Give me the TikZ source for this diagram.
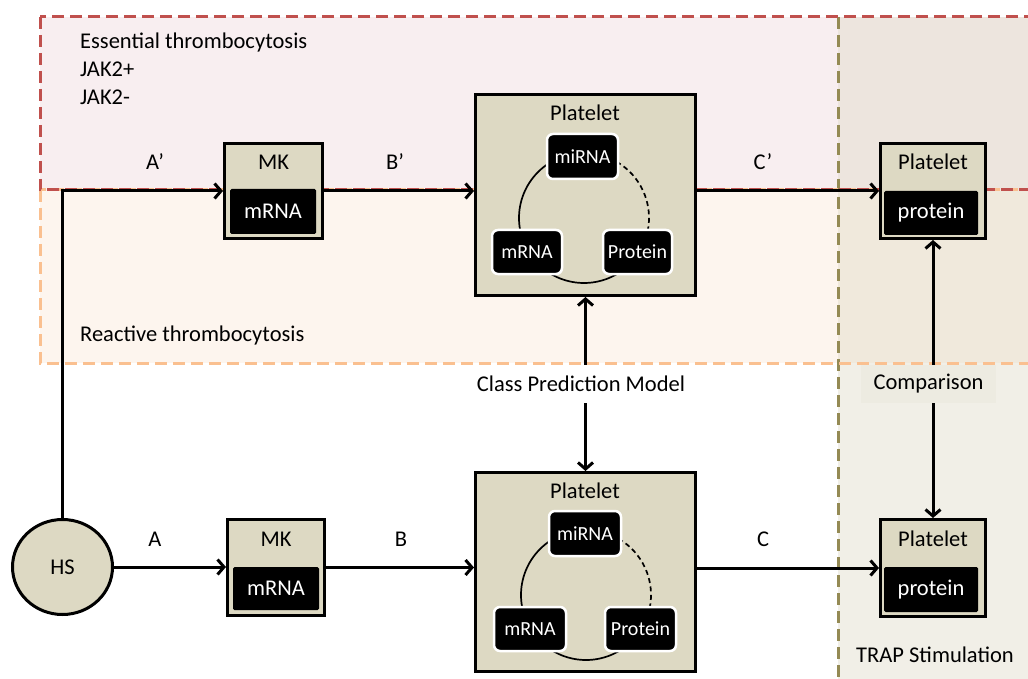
\documentclass[tikz,border=0pt]{standalone}
\usepackage{fontspec}
\setmainfont{Carlito}
\usetikzlibrary{arrows.meta,shapes.geometric}
\definecolor{tanfill}{HTML}{DDD9C3}
\definecolor{etline}{HTML}{C0504D}
\definecolor{etfill}{HTML}{F8EEF0}
\definecolor{rtline}{HTML}{FAC090}
\definecolor{rtfill}{HTML}{FDF5EE}
\definecolor{trapline}{HTML}{948A54}
\definecolor{cmpfill}{HTML}{EDEBE1}
\newcommand\txtL{\fontsize{22.5}{28}\selectfont}
\newcommand\txtS{\fontsize{20}{23}\selectfont}
\tikzset{
  conn/.style={line width=3pt, -{Straight Barb[length=6.5pt,width=15pt]}},
  outerbox/.style={draw=black, fill=tanfill, line width=3pt, inner sep=0pt},
  blackbox/.style={fill=black, text=white, inner sep=0pt, rounded corners=1.5pt, font=\txtL},
  corebox/.style={fill=black, draw=white, line width=2.5pt, text=white, inner sep=0pt,
                  rounded corners=6pt, font=\txtS},
  lbl/.style={font=\txtL, inner sep=1pt},
  region/.style={line width=3pt, dash pattern=on 12pt off 6pt},
  link/.style={line width=1.7pt},
  linkdash/.style={line width=1.7pt, dash pattern=on 5pt off 3.5pt},
}
\begin{document}
\begin{tikzpicture}[x=1pt,y=-1pt]
\fill[white] (0,0) rectangle (1028,679);
\useasboundingbox (0,0) rectangle (1028,679);

% background study groups
\begin{scope}
  \clip (0,0) rectangle (1028,679);
  \fill[etfill] (40,17) rectangle (1040,190);
  \fill[rtfill] (40,190) rectangle (1040,363);
  \fill[tanfill, opacity=0.4] (838,17) rectangle (1040,690);
  \draw[region, draw=trapline] (838,17) -- (838,690);
  \draw[region, draw=rtline] (40,190) rectangle (1040,363);
  \draw[region, draw=etline] (40,17) rectangle (1040,190);
\end{scope}

\node[lbl, anchor=north west, align=left] (etlabel) at (79,32)
  {Essential thrombocytosis\\JAK2+\\JAK2-};
\node[lbl, anchor=west] (rtlabel) at (79,336) {Reactive thrombocytosis};
\node[lbl] (traplabel) at (935,655) {TRAP Stimulation};

% hematopoietic source
\node[ellipse, draw=black, fill=tanfill, line width=3pt, minimum width=100pt,
      minimum height=95pt, font=\txtL] (hs) at (62.5,567) {HS};

% megakaryocytes
\node[outerbox, minimum width=98pt, minimum height=95pt] (mk1) at (273.5,191) {};
\node[lbl] (mk1t) at (273.5,162) {MK};
\node[blackbox, minimum width=86pt, minimum height=45pt] (mk1r) at (273,211.5) {mRNA};

\node[outerbox, minimum width=97pt, minimum height=96pt] (mk2) at (276,567.5) {};
\node[lbl] (mk2t) at (276,539) {MK};
\node[blackbox, minimum width=86pt, minimum height=43pt] (mk2r) at (276,588.5) {mRNA};

% platelets with miRNA / mRNA / protein interplay
\node[outerbox, minimum width=220pt, minimum height=201pt] (plt1) at (585.5,195) {};
\node[lbl] (plt1t) at (585,113) {Platelet};
\draw[link] plot[smooth, domain=120:195, samples=40] ({584+65*cos(\x)},{218-65*sin(\x)});
\draw[link] plot[smooth, domain=235:305, samples=40] ({584+65*cos(\x)},{218-65*sin(\x)});
\draw[linkdash] plot[smooth, domain=60:-15, samples=40] ({584+65*cos(\x)},{218-65*sin(\x)});
\node[corebox, minimum width=71pt, minimum height=45pt] (mi1) at (582.5,156.5) {miRNA};
\node[corebox, minimum width=70pt, minimum height=44pt] (mr1) at (527,252) {mRNA};
\node[corebox, minimum width=69pt, minimum height=44pt] (pr1) at (637.5,252) {Protein};

\node[outerbox, minimum width=220pt, minimum height=199pt] (plt2) at (585.5,572) {};
\node[lbl] (plt2t) at (585,491) {Platelet};
\draw[link] plot[smooth, domain=120:195, samples=40] ({586+65*cos(\x)},{595-65*sin(\x)});
\draw[link] plot[smooth, domain=235:305, samples=40] ({586+65*cos(\x)},{595-65*sin(\x)});
\draw[linkdash] plot[smooth, domain=60:-15, samples=40] ({586+65*cos(\x)},{595-65*sin(\x)});
\node[corebox, minimum width=72pt, minimum height=45pt] (mi2) at (585,533.5) {miRNA};
\node[corebox, minimum width=72pt, minimum height=44pt] (mr2) at (530,629) {mRNA};
\node[corebox, minimum width=71pt, minimum height=44pt] (pr2) at (640.5,629) {Protein};

% stimulated platelets
\node[outerbox, minimum width=105pt, minimum height=95pt] (rp1) at (933,191) {};
\node[lbl] (rp1t) at (933,162) {Platelet};
\node[blackbox, minimum width=94pt, minimum height=44pt] (rp1p) at (931,213) {protein};

\node[outerbox, minimum width=105pt, minimum height=97pt] (rp2) at (933,568) {};
\node[lbl] (rp2t) at (933,539) {Platelet};
\node[blackbox, minimum width=94pt, minimum height=45pt] (rp2p) at (931,589.5) {protein};

% analysis labels
\node[lbl, fill=white, minimum height=38pt, inner sep=3pt] (cpm) at (581,384) {Class Prediction Model};
\node[lbl, fill=cmpfill, minimum width=135pt, minimum height=38pt] (cmp) at (928.5,384) {Comparison};

% flow
\draw[conn] (hs.north) |- (mk1.west);
\draw[conn] (hs.east) -- (hs.east -| mk2.west);
\draw[conn] (mk1.east) -- (mk1.east -| plt1.west);
\draw[conn] (mk2.east) -- (mk2.east -| plt2.west);
\draw[conn] (rp1.west -| plt1.east) -- (rp1.west);
\draw[conn] (rp2.west -| plt2.east) -- (rp2.west);
\draw[conn] (cpm.north -| plt1.south) -- (plt1.south);
\draw[conn] (cpm.south -| plt2.north) -- (plt2.north);
\draw[conn] (cmp.north -| rp1.south) -- (rp1.south);
\draw[conn] (cmp.south -| rp2.north) -- (rp2.north);

% step labels
\node[lbl] (ap) at (155,162) {A’};
\node[lbl] (bp) at (395,162) {B’};
\node[lbl] (cp) at (763,162) {C’};
\node[lbl] (a) at (155,539) {A};
\node[lbl] (b) at (401,539) {B};
\node[lbl] (c) at (763,539) {C};
\end{tikzpicture}
\end{document}
